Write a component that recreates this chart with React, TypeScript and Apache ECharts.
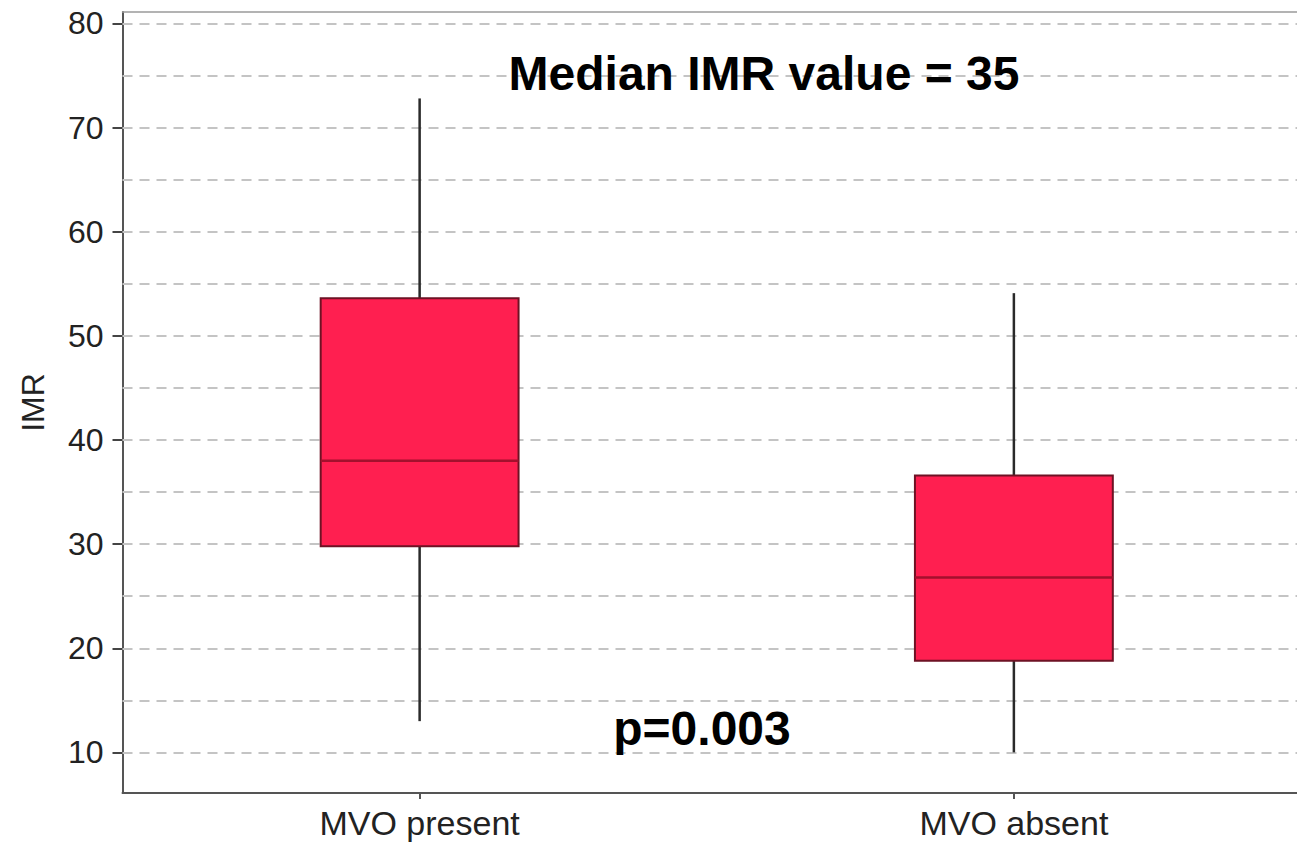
import React, { useEffect, useRef } from "react";
import * as echarts from "echarts";

const CATEGORIES = ["MVO present", "MVO absent"];
// [low whisker, Q1, median, Q3, high whisker]
const BOX_STATS = [
  [13, 29.8, 38, 53.6, 72.8],
  [10, 18.8, 26.8, 36.6, 54.1],
];
const Y_TICKS = [10, 20, 30, 40, 50, 60, 70, 80];
const GRID_VALUES = [10, 15, 20, 25, 30, 35, 40, 45, 50, 55, 60, 65, 70, 75, 80];
const ANNOTATION_TOP = "Median IMR value = 35";
const ANNOTATION_BOTTOM = "p=0.003";

const FONT = "'Liberation Sans', Arial, Helvetica, sans-serif";

export default function App() {
  const ref = useRef<HTMLDivElement>(null);

  useEffect(() => {
    document.body.style.margin = "0";
    document.body.style.overflow = "hidden";
    document.documentElement.style.overflow = "hidden";
    if (!ref.current) return;
    const chart = echarts.init(ref.current, null, { renderer: "svg" });
    const BOX_RATIO = 0.333;

    const option: any = {
      animation: false,
      backgroundColor: "#ffffff",
      grid: {
        left: 122.5,
        right: 0,
        top: 12,
        bottom: 50,
        show: false,
      },
      xAxis: [
        {
          type: "category",
          data: CATEGORIES,
          boundaryGap: true,
          axisLine: { show: true, lineStyle: { color: "#555", width: 2 } },
          axisTick: { show: true, alignWithLabel: true, length: 6, lineStyle: { color: "#555", width: 2 } },
          axisLabel: { fontSize: 34, color: "#222", margin: 13, fontFamily: FONT },
          splitLine: { show: false },
        },
        {
          type: "category",
          data: CATEGORIES,
          position: "top",
          boundaryGap: true,
          axisLine: { show: true, lineStyle: { color: "#9a9a9a", width: 1.5 } },
          axisTick: { show: false },
          axisLabel: { show: false },
          splitLine: { show: false },
        },
      ],
      yAxis: {
        type: "value",
        min: 6.1,
        max: 81.1,
        name: "IMR",
        nameLocation: "middle",
        nameGap: 74,
        nameTextStyle: { fontSize: 32, color: "#222", fontFamily: FONT },
        axisLine: { show: true, lineStyle: { color: "#555", width: 2 } },
        axisTick: { show: true, customValues: Y_TICKS, length: 10, lineStyle: { color: "#444", width: 2 } },
        axisLabel: { customValues: Y_TICKS, fontSize: 32, color: "#222", margin: 19, fontFamily: FONT },
        splitLine: { show: false },
      },
      series: [
        {
          type: "line",
          data: [],
          z: 1,
          silent: true,
          markLine: {
            z: 1,
            silent: true,
            symbol: ["none", "none"],
            label: { show: false },
            lineStyle: { type: [10, 7], color: "#c4c4c4", width: 2 },
            data: GRID_VALUES.map((v) => ({ yAxis: v })),
          },
        },
        {
          type: "custom",
          z: 3,
          data: BOX_STATS.map((s, i) => [i, ...s]),
          encode: { x: 0, y: [1, 2, 3, 4, 5] },
          renderItem: (params: any, api: any) => {
            const xi = api.value(0);
            const low = api.coord([xi, api.value(1)]);
            const q1 = api.coord([xi, api.value(2)]);
            const med = api.coord([xi, api.value(3)]);
            const q3 = api.coord([xi, api.value(4)]);
            const high = api.coord([xi, api.value(5)]);
            const halfW = (api.size([1, 0])[0] * BOX_RATIO) / 2;
            const cx = q1[0];
            const whiskerStyle = { stroke: "#2a2a2a", lineWidth: 2.5 };
            return {
              type: "group",
              children: [
                { type: "line", shape: { x1: cx, y1: high[1], x2: cx, y2: q3[1] }, style: whiskerStyle },
                { type: "line", shape: { x1: cx, y1: q1[1], x2: cx, y2: low[1] }, style: whiskerStyle },
                {
                  type: "rect",
                  shape: { x: cx - halfW, y: q3[1], width: halfW * 2, height: q1[1] - q3[1] },
                  style: { fill: "#ff1f50", stroke: "#6e1224", lineWidth: 2 },
                },
                {
                  type: "line",
                  shape: { x1: cx - halfW, y1: med[1], x2: cx + halfW, y2: med[1] },
                  style: { stroke: "#a3102d", lineWidth: 2.5 },
                },
              ],
            };
          },
        },
      ],
      graphic: [
        {
          type: "text",
          x: 764,
          y: 73,
          z: 10,
          style: {
            text: ANNOTATION_TOP,
            fontSize: 48,
            fontWeight: "bold",
            fontFamily: FONT,
            fill: "#000",
            align: "center",
            verticalAlign: "middle",
          },
        },
        {
          type: "text",
          x: 702,
          y: 728,
          z: 10,
          style: {
            text: ANNOTATION_BOTTOM,
            fontSize: 48,
            fontWeight: "bold",
            fontFamily: FONT,
            fill: "#000",
            align: "center",
            verticalAlign: "middle",
          },
        },
      ],
    };

    chart.setOption(option);
    return () => chart.dispose();
  }, []);

  return <div ref={ref} style={{ width: 1311, height: 843 }} />;
}
